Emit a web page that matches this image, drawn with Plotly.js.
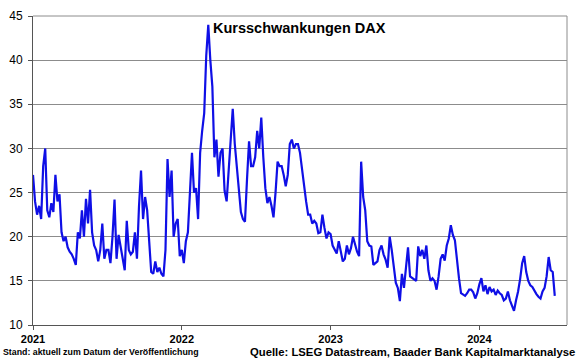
<!DOCTYPE html>
<html>
<head>
<meta charset="utf-8">
<script src="https://cdn.plot.ly/plotly-3.0.1.min.js"></script>
<style>
html,body{margin:0;padding:0;background:#fff;}
#chart{width:580px;height:358px;}
</style>
</head>
<body>
<div id="chart"></div>
<script>
// Sampling of the series: every 5 calendar days starting 2021-01-01
const startDate = '2021-01-01';
const stepDays = 5;

// Volatility values (VDAX)
const vdaxValues = [
27.0,24.0,22.5,23.5,22.0,28.0,30.0,23.0,22.2,23.8,
22.8,27.0,24.0,24.8,20.5,19.5,20.0,18.8,18.3,18.0,
17.5,16.8,20.5,19.8,23.0,20.0,24.3,21.5,25.3,20.5,
19.0,18.5,17.2,18.5,21.5,17.5,18.5,18.5,17.0,20.0,
24.2,17.5,20.2,19.0,17.5,16.2,21.8,18.5,18.0,18.3,
20.5,17.5,23.4,27.5,22.0,24.5,23.0,20.0,16.0,15.8,
17.2,16.0,16.5,15.8,15.5,18.5,28.8,24.5,27.5,20.0,
21.5,22.0,17.8,18.5,17.0,19.5,20.5,25.0,29.5,25.0,
25.5,22.0,29.5,32.0,34.0,40.5,44.0,40.0,37.0,29.0,
31.0,26.8,29.5,30.0,25.2,24.0,27.5,31.5,34.5,30.5,
27.8,26.0,22.8,22.0,21.7,26.5,30.8,28.0,28.0,29.0,
32.0,30.0,33.5,29.0,25.5,23.8,24.5,23.5,22.2,25.0,
28.5,28.0,28.0,27.0,25.7,27.0,30.5,31.0,30.0,30.5,
30.5,29.5,27.5,26.0,24.0,22.5,22.5,21.5,21.8,21.5,
20.4,20.5,22.5,21.0,19.8,20.5,20.3,19.0,18.5,18.1,
19.5,18.2,17.2,17.5,19.0,18.0,18.7,20.0,19.0,18.3,
17.8,28.5,24.5,23.0,19.5,19.0,18.9,16.8,17.0,17.2,
18.5,19.0,18.0,17.4,16.5,20.0,18.5,16.5,14.8,14.2,
12.7,15.8,14.2,16.5,18.8,15.5,15.3,15.2,15.0,18.9,
17.8,18.5,17.5,19.0,16.2,15.0,15.3,15.0,14.0,15.5,
17.5,18.0,17.3,19.0,19.8,21.3,20.2,19.6,17.0,15.3,
13.6,13.4,13.3,13.6,14.0,14.0,13.7,13.0,13.6,14.6,
15.3,13.8,14.5,13.5,14.3,13.8,14.0,13.4,13.9,13.6,
13.4,12.8,13.0,13.8,12.8,12.2,11.6,12.8,13.8,15.2,
17.0,17.8,16.0,15.0,14.5,14.3,13.8,13.5,13.2,13.0,
13.8,14.2,15.5,17.7,16.2,16.0,13.3
];

const yearTicks = ['2021-01-01','2022-01-01','2023-01-01','2024-01-01'];
const yearLabels = ['2021','2022','2023','2024'];
const yTicks = [10,15,20,25,30,35,40,45];

const chartTitle = 'Kursschwankungen DAX';
const noteLeft = 'Stand: aktuell zum Datum der Veröffentlichung';
const noteRight = 'Quelle: LSEG Datastream, Baader Bank Kapitalmarktanalyse';

// build sample dates
const dates = [];
{
  const d0 = new Date(startDate + 'T00:00:00Z');
  for (let i = 0; i < vdaxValues.length; i++) {
    const d = new Date(d0.getTime() + i * stepDays * 86400000);
    dates.push(d.toISOString().slice(0, 10));
  }
}

const trace = {
  x: dates,
  y: vdaxValues,
  type: 'scatter',
  mode: 'lines',
  line: {color: 'rgb(15,15,230)', width: 2.2},
  hoverinfo: 'x+y'
};

const layout = {
  width: 580,
  height: 358,
  margin: {l: 33, r: 12.5, t: 16, b: 33, pad: 0},
  paper_bgcolor: '#fff',
  plot_bgcolor: '#fff',
  showlegend: false,
  font: {family: 'Liberation Sans, Arial, sans-serif', color: '#000'},
  xaxis: {
    type: 'date',
    range: ['2021-01-01', '2024-08-03'],
    tickvals: yearTicks,
    ticktext: yearLabels,
    ticks: 'outside',
    ticklen: 4,
    tickcolor: '#555',
    ticklabelstandoff: 0,
    showgrid: false,
    showline: true,
    linecolor: '#555',
    linewidth: 1,
    zeroline: false,
    tickfont: {size: 11, family: 'Liberation Sans, Arial, sans-serif', color: '#000', weight: 'bold'}
  },
  yaxis: {
    range: [10, 45],
    tickvals: yTicks,
    ticks: 'outside',
    ticklen: 4,
    tickcolor: '#555',
    ticklabelstandoff: 3,
    showgrid: true,
    gridcolor: '#8c8c8c',
    gridwidth: 1,
    showline: true,
    linecolor: '#555',
    linewidth: 1,
    zeroline: false,
    tickfont: {size: 12, family: 'Liberation Sans, Arial, sans-serif', color: '#000'}
  },
  shapes: [
    {type: 'line', xref: 'paper', yref: 'paper', x0: 1, x1: 1, y0: 0, y1: 1,
     line: {color: '#8c8c8c', width: 1}},
    {type: 'line', xref: 'paper', yref: 'paper', x0: 0, x1: 1, y0: 1, y1: 1,
     line: {color: '#8c8c8c', width: 1}}
  ],
  annotations: [
    {text: '<b>' + chartTitle + '</b>', xref: 'paper', yref: 'paper',
     x: 0.333, y: 0.961, xanchor: 'left', yanchor: 'middle', showarrow: false,
     font: {size: 14.5, family: 'Liberation Sans, Arial, sans-serif', color: '#000'}},
    {text: '<b>' + noteLeft + '</b>', xref: 'paper', yref: 'paper',
     x: -0.058, y: -0.088, xanchor: 'left', yanchor: 'middle', showarrow: false, borderpad: 0,
     font: {size: 8.8, family: 'Liberation Sans, Arial, sans-serif', color: '#000'}},
    {text: '<b>' + noteRight + '</b>', xref: 'paper', yref: 'paper',
     x: 1.016, y: -0.0865, xanchor: 'right', yanchor: 'middle', showarrow: false, borderpad: 0,
     font: {size: 11.3, family: 'Liberation Sans, Arial, sans-serif', color: '#000'}}
  ]
};

Plotly.newPlot('chart', [trace], layout, {displayModeBar: false, staticPlot: true});
</script>
</body>
</html>
